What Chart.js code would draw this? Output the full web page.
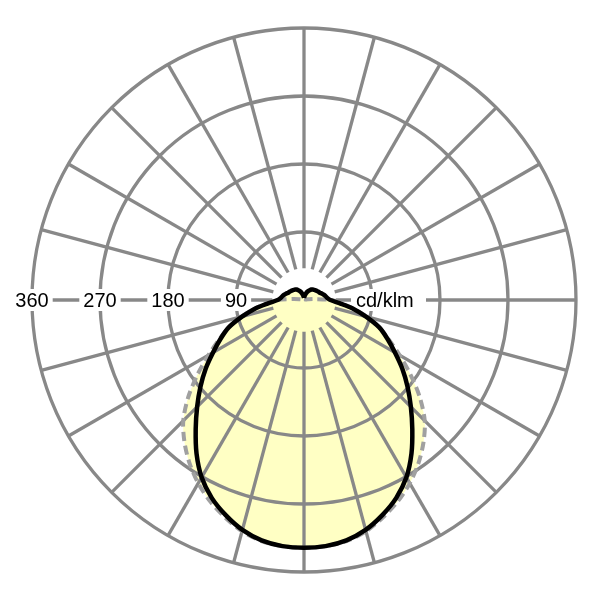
<!DOCTYPE html>
<html>
<head>
<meta charset="utf-8">
<script src="https://cdn.jsdelivr.net/npm/chart.js@4/dist/chart.umd.min.js"></script>
<style>
  html, body { margin: 0; padding: 0; background: #fff; }
  canvas { display: block; }
</style>
</head>
<body>
<canvas id="polar" width="600" height="600" style="width:600px;height:600px"></canvas>
<script>
// gamma angles (0 = straight down, 180 = straight up), every 5 degrees
const angles = [0, 5, 10, 15, 20, 25, 30, 35, 40, 45, 50, 55, 60, 65, 70, 75, 80, 85, 90,
                95, 100, 105, 110, 115, 120, 125, 130, 135, 140, 145, 150, 155, 160, 165, 170, 175, 180];
// C0 - C180 plane, cd/klm (solid black)
const c0Values = [328, 327, 323, 315, 303, 289, 271, 248, 223, 200, 179, 159, 139, 122, 106, 85, 66, 47, 35,
                  31, 29, 27, 25, 23, 22, 21, 20, 19, 18, 17, 15, 13, 11, 8, 6, 4, 3];
// C90 - C270 plane, cd/klm (dashed grey)
const c90Values = [328, 327, 324, 317, 306, 294, 280, 264, 246, 226, 200, 172, 146, 124, 106, 86, 66, 49, 36,
                   14, 5, 2, 2, 2, 2, 2, 2, 2, 2, 2, 2, 2, 2, 2, 2, 2, 2];
const ringValues = [90, 180, 270, 360];
const ringLabels = ['90', '180', '270', '360'];
const unitLabel = 'cd/klm';
const maxValue = 360;
const spokeStep = 15;
const spokeStart = 42;

const GRID = '#888888';
const FILL = 'rgb(255,255,196)';
const FONT = '20px "Liberation Sans", Arial, sans-serif';

// turn one half-plane curve into a closed loop of x/y points (both sides mirrored)
function toLoop(vals) {
    const pts = [];
    for (let i = angles.length - 1; i >= 0; i--) {
        const a = angles[i] * Math.PI / 180;
        pts.push({ x: vals[i] * Math.sin(a), y: -vals[i] * Math.cos(a) });
    }
    for (let i = 1; i < angles.length; i++) {
        const a = angles[i] * Math.PI / 180;
        pts.push({ x: -vals[i] * Math.sin(a), y: -vals[i] * Math.cos(a) });
    }
    return pts;
}

// polar grid + labels, drawn over the fill but under the curves
const polarGrid = {
    id: 'polarGrid',
    beforeDatasetsDraw(chart) {
        const ctx = chart.ctx;
        const xs = chart.scales.x, ys = chart.scales.y;
        const cx = xs.getPixelForValue(0), cy = ys.getPixelForValue(0);
        const px = v => xs.getPixelForValue(v) - cx;

        ctx.save();
        ctx.strokeStyle = GRID;
        ctx.lineWidth = 3.3;
        ringValues.forEach(v => {
            ctx.beginPath();
            ctx.arc(cx, cy, px(v), 0, Math.PI * 2);
            ctx.stroke();
        });
        for (let a = 0; a < 360; a += spokeStep) {
            const t = a * Math.PI / 180;
            const r0 = px(spokeStart), r1 = px(maxValue);
            ctx.beginPath();
            ctx.moveTo(cx + r0 * Math.sin(t), cy + r0 * Math.cos(t));
            ctx.lineTo(cx + r1 * Math.sin(t), cy + r1 * Math.cos(t));
            ctx.stroke();
        }

        ctx.font = FONT;
        ctx.textBaseline = 'middle';
        ctx.textAlign = 'center';
        ringValues.forEach((v, i) => {
            const x = cx - px(v);
            const w = ctx.measureText(ringLabels[i]).width + 8;
            ctx.fillStyle = '#fff';
            ctx.fillRect(x - w / 2, cy - 11, w, 22);
            ctx.fillStyle = '#000';
            ctx.fillText(ringLabels[i], x, cy + 1);
        });
        // unit label on the right
        ctx.textAlign = 'left';
        const ux = cx + 52;
        ctx.fillStyle = '#fff';
        ctx.fillRect(ux - 5, cy - 11, 75, 22);
        ctx.fillStyle = '#000';
        ctx.fillText(unitLabel, ux, cy + 1);
        ctx.restore();
    }
};

new Chart(document.getElementById('polar'), {
    type: 'scatter',
    data: {
        datasets: [
            {
                label: 'C0 - C180',
                data: toLoop(c0Values),
                showLine: true,
                borderColor: '#000',
                borderWidth: 4.5,
                backgroundColor: FILL,
                fill: 'shape',
                pointRadius: 0,
                tension: 0.3,
                order: 0
            },
            {
                label: 'C90 - C270',
                data: toLoop(c90Values),
                showLine: true,
                borderColor: '#a0a0a0',
                borderWidth: 4,
                borderDash: [9, 5],
                backgroundColor: FILL,
                fill: 'shape',
                pointRadius: 0,
                tension: 0.3,
                order: 1
            }
        ]
    },
    options: {
        responsive: false,
        animation: false,
        devicePixelRatio: 1,
        layout: { padding: { left: 32, right: 24, top: 28, bottom: 28 } },
        scales: {
            x: { type: 'linear', min: -maxValue, max: maxValue, display: false },
            y: { type: 'linear', min: -maxValue, max: maxValue, display: false }
        },
        plugins: {
            legend: { display: false },
            tooltip: { enabled: false },
            filler: { drawTime: 'beforeDraw' }
        }
    },
    plugins: [polarGrid]
});
</script>
</body>
</html>
